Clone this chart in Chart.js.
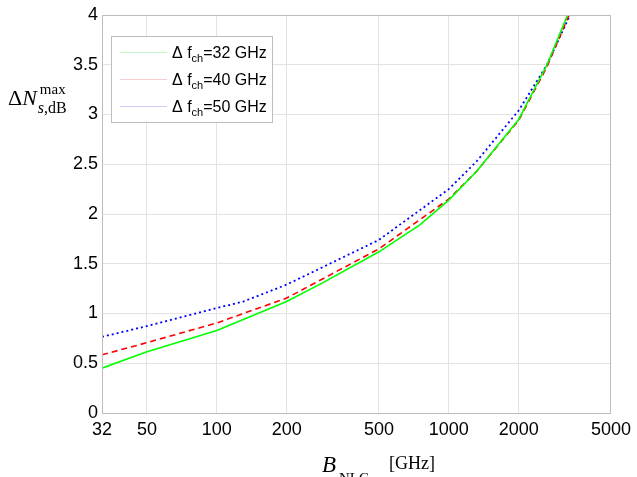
<!DOCTYPE html>
<html>
<head>
<meta charset="utf-8">
<script src="https://cdn.jsdelivr.net/npm/chart.js@4.4.1/dist/chart.umd.min.js"></script>
<style>
  html, body { margin: 0; padding: 0; background: #fff; }
  #wrap { width: 637px; height: 477px; position: relative; }
</style>
</head>
<body>
<div id="wrap"><canvas id="chart"></canvas></div>
<script>
// values
const xTicks = [32, 50, 100, 200, 500, 1000, 2000, 5000];
const yTicks = [0, 0.5, 1, 1.5, 2, 2.5, 3, 3.5, 4];

const bw32x = [32, 50, 100, 200, 287, 500, 750, 1000, 1319, 2000, 2650, 3250, 3500];
const bw32y = [0.45, 0.616, 0.83, 1.12, 1.31, 1.62, 1.89, 2.14, 2.43, 2.95, 3.5, 4.0, 4.22];

const bw40x = [32, 50, 100, 200, 500, 1000, 1319, 2000, 2650, 3300, 3500];
const bw40y = [0.585, 0.707, 0.905, 1.155, 1.65, 2.15, 2.43, 2.94, 3.48, 4.0, 4.16];

const bw50x = [32, 50, 100, 130, 200, 500, 1000, 1319, 2000, 2650, 3330, 3500];
const bw50y = [0.765, 0.874, 1.055, 1.12, 1.29, 1.74, 2.25, 2.53, 3.04, 3.5, 4.0, 4.12];

const legendNames = ['32', '40', '50'];

function pts(xs, ys) {
  return xs.map((x, i) => ({ x: x, y: ys[i] }));
}

// legend + axis titles (need sub/superscripts, so drawn by hand)
const extras = {
  id: 'extras',
  afterDraw(chart) {
    const ctx = chart.ctx;
    const area = chart.chartArea;
    ctx.save();

    // frame on all sides
    ctx.strokeStyle = '#bdbdbd';
    ctx.lineWidth = 1;
    ctx.strokeRect(area.left + 0.5, area.top + 0.5, area.right - area.left - 1, area.bottom - area.top);

    // legend box
    const lx = 111, ly = 36, lw = 161, lh = 86;
    ctx.fillStyle = '#fff';
    ctx.fillRect(lx, ly, lw, lh);
    ctx.strokeStyle = '#bdbdbd';
    ctx.strokeRect(lx + 0.5, ly + 0.5, lw, lh);
    const sampleCols = ['#c6f7c6', '#f7cdcd', '#cdcdf7'];
    legendNames.forEach((n, i) => {
      const y = 52 + i * 27;
      ctx.strokeStyle = sampleCols[i];
      ctx.lineWidth = 1;
      ctx.beginPath();
      ctx.moveTo(120, y + 0.5);
      ctx.lineTo(167, y + 0.5);
      ctx.stroke();
      ctx.fillStyle = '#000';
      ctx.textBaseline = 'alphabetic';
      ctx.font = '16px "Liberation Sans", Arial, sans-serif';
      let x = 172;
      ctx.fillText('\u0394 f', x, y + 6);
      x += ctx.measureText('\u0394 f').width;
      ctx.font = '11px "Liberation Sans", Arial, sans-serif';
      ctx.fillText('ch', x, y + 10);
      x += ctx.measureText('ch').width;
      ctx.font = '16px "Liberation Sans", Arial, sans-serif';
      ctx.fillText('=' + n + ' GHz', x, y + 6);
    });

    // y axis title
    ctx.fillStyle = '#000';
    ctx.font = '22px "Liberation Serif", "Times New Roman", serif';
    ctx.fillText('\u0394', 8, 105);
    let yx = 8 + ctx.measureText('\u0394').width;
    ctx.font = 'italic 22px "Liberation Serif", "Times New Roman", serif';
    ctx.fillText('N', yx, 105);
    yx += ctx.measureText('N').width;
    ctx.font = '15px "Liberation Serif", "Times New Roman", serif';
    ctx.fillText('max', yx + 3, 94);
    ctx.font = 'italic 16px "Liberation Serif", "Times New Roman", serif';
    ctx.fillText('s', yx + 1, 113);
    const sw = ctx.measureText('s').width;
    ctx.font = '16px "Liberation Serif", "Times New Roman", serif';
    ctx.fillText(',dB', yx + 1 + sw, 113);

    // x axis title
    ctx.font = 'italic 23px "Liberation Serif", "Times New Roman", serif';
    ctx.fillText('B', 322, 472);
    ctx.font = '15px "Liberation Serif", "Times New Roman", serif';
    ctx.fillText('NLC', 339, 483);
    ctx.font = '18px "Liberation Serif", "Times New Roman", serif';
    ctx.fillText('[GHz]', 389, 469);

    ctx.restore();
  }
};

new Chart(document.getElementById('chart'), {
  type: 'line',
  data: {
    datasets: [{
      label: '\u0394 fch=32 GHz',
      data: pts(bw32x, bw32y),
      borderColor: '#00ff00',
      borderWidth: 1.6,
      pointRadius: 0,
      tension: 0
    }, {
      label: '\u0394 fch=40 GHz',
      data: pts(bw40x, bw40y),
      borderColor: '#ff0000',
      borderWidth: 1.6,
      borderDash: [6, 4],
      pointRadius: 0,
      tension: 0
    }, {
      label: '\u0394 fch=50 GHz',
      data: pts(bw50x, bw50y),
      borderColor: '#0000ff',
      borderWidth: 1.8,
      borderDash: [2, 3],
      pointRadius: 0,
      tension: 0
    }]
  },
  options: {
    responsive: true,
    maintainAspectRatio: false,
    animation: false,
    layout: { padding: { top: 15, right: 24, left: 0, bottom: 0 } },
    plugins: {
      legend: { display: false },
      tooltip: { enabled: false }
    },
    scales: {
      x: {
        type: 'logarithmic',
        min: 32,
        max: 5000,
        afterBuildTicks: function (scale) {
          scale.ticks = xTicks.map(v => ({ value: v }));
        },
        afterFit: function (scale) { scale.height = 64; },
        grid: { color: '#e3e3e3', drawTicks: false },
        border: { color: '#bdbdbd' },
        ticks: {
          autoSkip: false,
          maxRotation: 0,
          padding: 6,
          color: '#000',
          font: { family: '"Liberation Sans", Arial, sans-serif', size: 18 },
          callback: function (v) { return String(v); }
        }
      },
      y: {
        min: 0,
        max: 4,
        afterBuildTicks: function (scale) {
          scale.ticks = yTicks.map(v => ({ value: v }));
        },
        afterFit: function (scale) { scale.width = 102; },
        grid: { color: '#e3e3e3', drawTicks: false },
        border: { color: '#bdbdbd' },
        ticks: {
          padding: 4,
          color: '#000',
          font: { family: '"Liberation Sans", Arial, sans-serif', size: 18 },
          callback: function (v) { return String(v); }
        }
      }
    }
  },
  plugins: [extras]
});
</script>
</body>
</html>
